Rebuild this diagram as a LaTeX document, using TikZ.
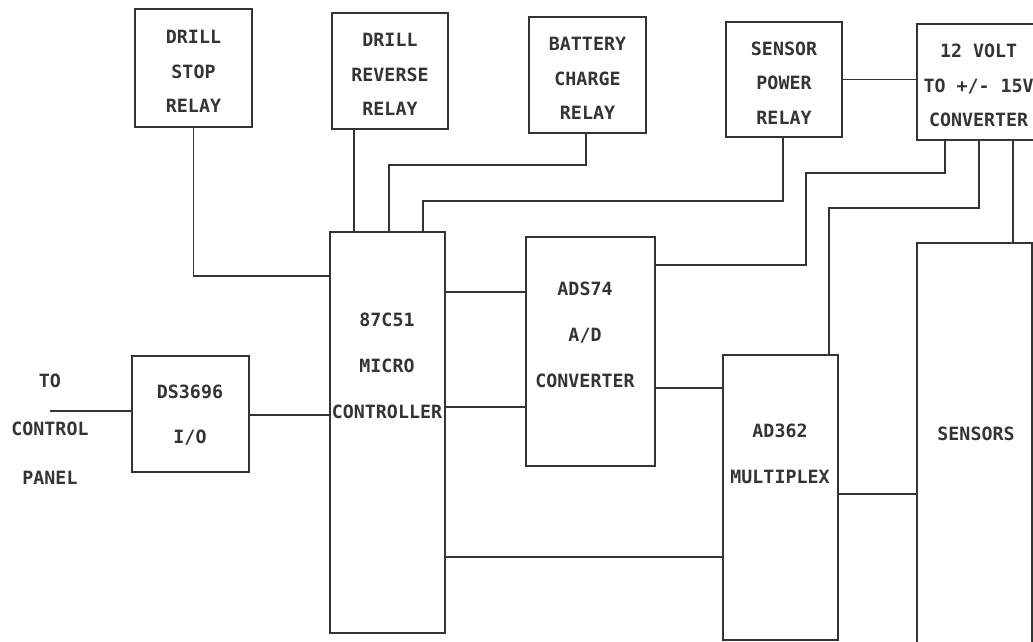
\documentclass[tikz,border=0pt]{standalone}
\usepackage{fontspec}
\setmonofont{DejaVu Sans Mono}
\definecolor{PenGray}{RGB}{52, 52, 52}

\begin{document}
\begin{tikzpicture}[x=0.025cm, y=-0.025cm, line width=1.2pt, color=PenGray,
  blk/.style={draw, rectangle, inner sep=0pt, align=center, font=\ttfamily\bfseries\fontsize{13}{24.5}\selectfont},
  lbl/.style={inner sep=0pt, align=center, font=\ttfamily\bfseries\fontsize{13}{32.6}\selectfont}]
\useasboundingbox (0,0) rectangle (1033,642);
% relays and supply along the top
\node[blk, minimum width=2.925cm, minimum height=2.95cm] (stop) at (193.5,68) {\\[-10pt]DRILL\\STOP\\RELAY};
\node[blk, minimum width=2.9cm, minimum height=2.9cm] (rev) at (390,71) {\\[-10pt]DRILL\\REVERSE\\RELAY};
\node[blk, minimum width=2.925cm, minimum height=2.9cm] (chg) at (587.5,75) {\\[-10pt]BATTERY\\CHARGE\\RELAY};
\node[blk, minimum width=2.9cm, minimum height=2.875cm] (pwr) at (784,79.5) {\\[-10pt]SENSOR\\POWER\\RELAY};
\node[blk, minimum width=3.075cm, minimum height=2.9cm, xshift=-0.12cm] (conv) at (983.5,82) {\\[-10pt]12 VOLT\\TO +/- 15V\\CONVERTER};
% main blocks
\node[blk, minimum width=2.875cm, minimum height=10.025cm] (mcu) at (387.5,432.5) {};
\node[lbl] (mcutxt) at (387,366) {87C51\\MICRO\\CONTROLLER};
\node[blk, minimum width=3.225cm, minimum height=5.725cm] (adc) at (590.5,351.5) {};
\node[lbl] (adctxt) at (585,335) {ADS74\\A/D\\CONVERTER};
\node[blk, minimum width=2.875cm, minimum height=7.125cm] (mux) at (780.5,497.5) {};
\node[lbl] (muxtxt) at (780,454) {AD362\\MULTIPLEX};
\node[blk, minimum width=2.875cm, minimum height=11.425cm] (sens) at (974.5,471.5) {};
\node[lbl] (senstxt) at (976,434) {SENSORS};
\node[blk, minimum width=2.925cm, minimum height=2.9cm] (io) at (190.5,414) {};
\node[lbl, font=\ttfamily\bfseries\fontsize{13}{32}\selectfont] (iotxt) at (190,415) {DS3696\\I/O};
\node[lbl, font=\ttfamily\bfseries\fontsize{13}{34.5}\selectfont] (paneltxt) at (50,429) {TO\\CONTROL\\PANEL};
\coordinate (panel) at (50,411);

% wiring
\draw (stop.south) |- (mcu.west |- 0,276);
\draw (rev.south -| 354,0) -- (mcu.north -| 354,0);
\draw (chg.south -| 586,0) |- (389,165) -- (mcu.north -| 389,0);
\draw (pwr.south -| 783,0) |- (423,201) -- (mcu.north -| 423,0);
\draw (pwr.east) -- (pwr.east -| conv.west);
\draw (conv.south -| 945,0) |- (806,173) |- (adc.east |- 0,265);
\draw (conv.south -| 979,0) |- (829,208) -- (mux.north -| 829,0);
\draw (conv.south -| 1013,0) -- (sens.north -| 1013,0);
\draw (mcu.east |- 0,292) -- (adc.west |- 0,292);
\draw (mcu.east |- 0,407) -- (adc.west |- 0,407);
\draw (mcu.east |- 0,557) -- (mux.west |- 0,557);
\draw (adc.east |- 0,388) -- (mux.west |- 0,388);
\draw (mux.east |- 0,494) -- (sens.west |- 0,494);
\draw (io.east |- 0,415) -- (mcu.west |- 0,415);
\draw (panel) -- (io.west |- panel);
\end{tikzpicture}
\end{document}
